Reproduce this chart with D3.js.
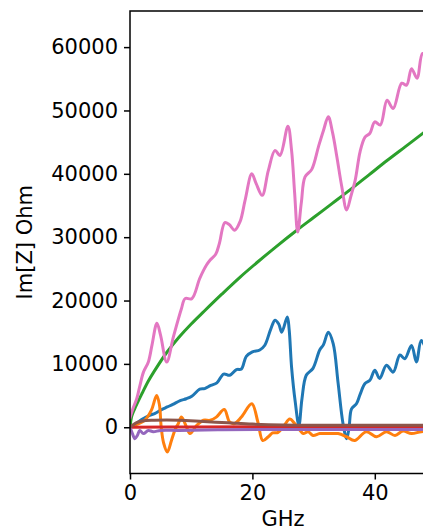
<!DOCTYPE html>
<html>
<head>
<meta charset="utf-8">
<script src="https://cdn.jsdelivr.net/npm/d3@7"></script>
<style>
  html, body { margin: 0; padding: 0; overflow: hidden; background: #fff; }
  svg { display: block; font-family: "DejaVu Sans", sans-serif; }
</style>
</head>
<body>
<svg width="423" height="530"></svg>
<script>
// [GHz, Ohm] pairs
var bluePts = [[0,0],[1,600],[1.9,1200],[3.3,1900],[4.1,2200],[5,2700],[6.1,3200],[7,3600],[8.2,4200],[9.2,4500],[10.1,4900],[11.4,6000],[12.2,6100],[13.2,6600],[14.2,7000],[15.3,8400],[16.3,8200],[17.4,9100],[18.2,9200],[19.0,11200],[20,11900],[21.2,12200],[22.0,12900],[23.0,15500],[23.7,16900],[24.3,16300],[24.8,15000],[25.7,17400],[26.0,15500],[26.4,9500],[27.0,4000],[27.6,300],[28.1,4500],[28.8,8200],[29.9,9300],[31.0,12200],[31.6,13000],[32.4,15000],[33.2,13200],[34.0,7000],[34.8,600],[35.4,-1800],[35.8,0],[36.2,2900],[37.0,3700],[37.6,5200],[38.4,6900],[39.2,7400],[40.0,9000],[40.8,7700],[41.9,9800],[43.0,8700],[44.1,11400],[44.9,10800],[46.0,12900],[46.8,10300],[47.6,13700],[48.5,12500],[50,14500]];

var orangePts = [[0,0],[1,400],[2.4,1100],[3.5,2700],[4.35,5000],[4.8,3600],[5.1,0],[5.5,-2500],[6.1,-3900],[6.8,-2000],[7.4,-300],[7.9,600],[8.4,1600],[9.25,0],[9.8,-1000],[10.9,300],[12.0,1100],[13.1,1100],[14.1,1600],[15.4,2800],[16.3,800],[17.1,600],[18.2,1600],[19.9,3700],[20.9,800],[21.7,-2100],[22.6,-1500],[23.3,-900],[24.2,-800],[25.2,300],[26.1,1300],[26.9,600],[27.8,-500],[28.3,-1000],[29.1,-700],[29.9,-1300],[31.0,-1000],[32.7,-1000],[34.0,-1000],[35.4,-1500],[36.7,-2100],[38.6,-700],[40.3,-1500],[41.9,-700],[43.3,-1300],[44.6,-600],[46.0,-1000],[47.6,-700],[50,-600]];

var greenPts = [[0,0],[0.3,1800],[1,3400],[2,5400],[3,7300],[4,8900],[6,11800],[8,14200],[10,16300],[12,18200],[15,21000],[18,23700],[21,26200],[24,28600],[27,30900],[30,33100],[33,35300],[36,37500],[39,39800],[42,42100],[45,44300],[48,46500],[50,48000]];

var redPts = [[0,0],[10,50],[25,100],[50,100]];

var purplePts = [[0,0],[0.4,-1000],[0.8,-1800],[1.2,-1300],[1.6,-500],[2.2,-1000],[3.0,-500],[3.8,-700],[5,-500],[8,-500],[15,-400],[25,-350],[35,-350],[50,-350]];

var brownPts = [[0,0],[1,700],[2,1000],[4,1100],[8,1100],[12,900],[16,700],[20,500],[25,350],[30,300],[40,300],[50,300]];

var pinkPts = [[0,1500],[0.5,3000],[1.1,4500],[1.6,6500],[2.2,8700],[3.0,10300],[3.6,13000],[4.4,16400],[5.0,14500],[6.0,10300],[7.1,14300],[8.4,18700],[9.0,20300],[10.1,20300],[11.4,23500],[12.5,25600],[13.1,26400],[14.0,27300],[14.6,29000],[15.5,32300],[16.2,32000],[17.1,31100],[18.0,32500],[18.8,35800],[19.9,40000],[20.6,38500],[21.6,36600],[22.6,40500],[23.7,43700],[24.5,42900],[25.8,47500],[26.4,43700],[26.9,37000],[27.4,30800],[28.0,35500],[28.6,39500],[29.7,40700],[30.8,44300],[31.6,46800],[32.4,49000],[33.1,46500],[33.8,42700],[34.6,38000],[35.4,34300],[36.1,36500],[36.8,39000],[37.6,43500],[38.4,45800],[39.2,46400],[40.0,48200],[40.9,47700],[42.0,51600],[43.0,50300],[44.4,54300],[45.2,54000],[46.0,56600],[46.9,55100],[47.8,59000],[48.6,58500],[50,62000]];

var series = [bluePts, orangePts, greenPts, redPts, purplePts, brownPts, pinkPts];
var colors = ["#1f77b4", "#ff7f0e", "#2ca02c", "#d62728", "#9467bd", "#8c564b", "#e377c2"];

var xTicks = [0, 20, 40];
var yTicks = [0, 10000, 20000, 30000, 40000, 50000, 60000];

var svg = d3.select("svg"),
    plot = {left: 130, right: 436, top: 11, bottom: 473.5};

var x = d3.scaleLinear().domain([0, 50]).range([plot.left, plot.right]);
var y = d3.scaleLinear().domain([-7300, 65700]).range([plot.bottom, plot.top]);

svg.append("clipPath").attr("id", "plot")
  .append("rect")
    .attr("x", plot.left).attr("y", plot.top)
    .attr("width", plot.right - plot.left).attr("height", plot.bottom - plot.top);

var line = d3.line()
    .x(function(d) { return x(d[0]); })
    .y(function(d) { return y(d[1]); })
    .curve(d3.curveCatmullRom.alpha(0.5));

svg.append("g")
    .attr("clip-path", "url(#plot)")
  .selectAll("path")
  .data(series)
  .enter().append("path")
    .attr("d", line)
    .attr("fill", "none")
    .attr("stroke", function(d, i) { return colors[i]; })
    .attr("stroke-width", 3)
    .attr("stroke-linejoin", "round")
    .attr("stroke-linecap", "square");

// spines
svg.append("rect")
    .attr("x", plot.left).attr("y", plot.top)
    .attr("width", plot.right - plot.left).attr("height", plot.bottom - plot.top)
    .attr("fill", "none")
    .attr("stroke", "#000")
    .attr("stroke-width", 1.5);

var xAxis = svg.append("g")
    .attr("transform", "translate(0," + plot.bottom + ")")
    .call(d3.axisBottom(x).tickValues(xTicks).tickSize(6).tickPadding(6));

var yAxis = svg.append("g")
    .attr("transform", "translate(" + plot.left + ",0)")
    .call(d3.axisLeft(y).tickValues(yTicks).tickSize(6).tickPadding(6).tickFormat(d3.format("d")));

[xAxis, yAxis].forEach(function(a) {
  a.select(".domain").remove();
  a.selectAll("line").attr("stroke", "#000").attr("stroke-width", 1.5);
  a.selectAll("text")
    .attr("fill", "#000")
    .style("font-family", "'DejaVu Sans', sans-serif")
    .style("font-size", "21px");
});

svg.append("text")
    .attr("x", (plot.left + plot.right) / 2)
    .attr("y", 526)
    .attr("text-anchor", "middle")
    .style("font-size", "21px")
    .text("GHz");

svg.append("text")
    .attr("transform", "translate(32," + ((plot.top + plot.bottom) / 2) + ") rotate(-90)")
    .attr("text-anchor", "middle")
    .style("font-size", "21px")
    .text("Im[Z] Ohm");
</script>
</body>
</html>
